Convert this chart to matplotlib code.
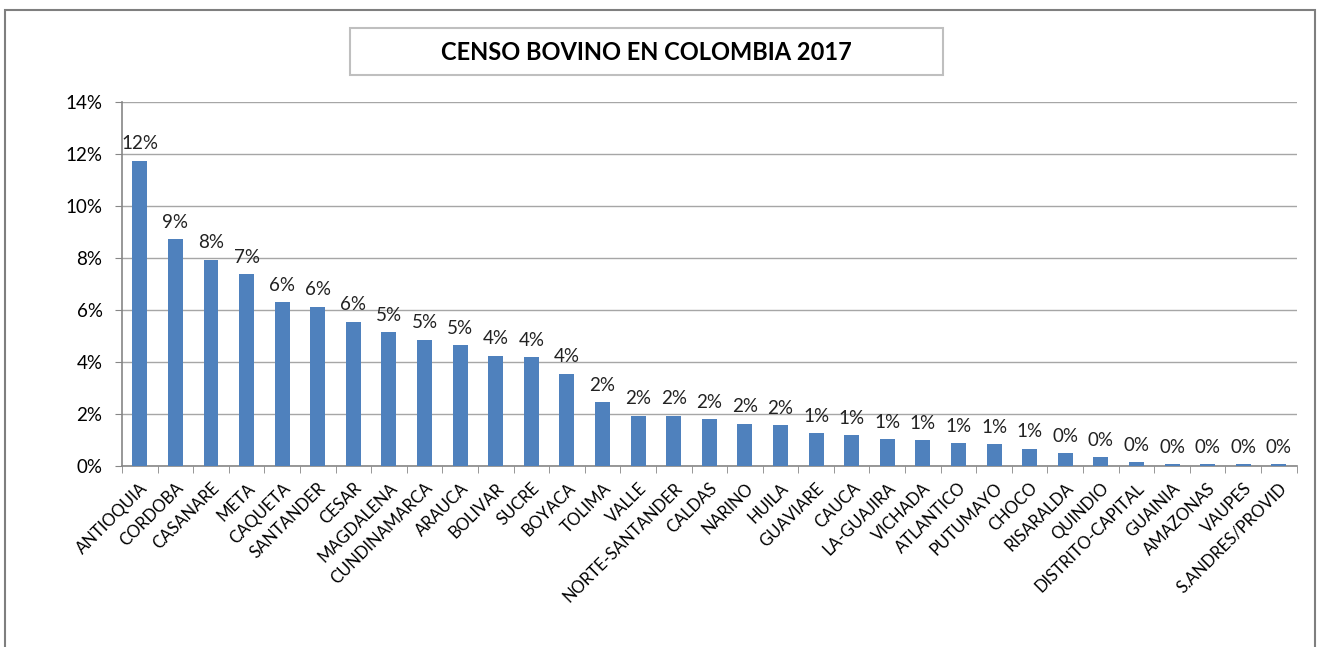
import matplotlib.pyplot as plt
from matplotlib.patches import Rectangle
from matplotlib.ticker import FuncFormatter, FixedLocator

plt.rcParams['font.family'] = ['Lato', 'DejaVu Sans']

departamentos = [
    'ANTIOQUIA', 'CORDOBA', 'CASANARE', 'META', 'CAQUETA', 'SANTANDER',
    'CESAR', 'MAGDALENA', 'CUNDINAMARCA', 'ARAUCA', 'BOLIVAR', 'SUCRE',
    'BOYACA', 'TOLIMA', 'VALLE', 'NORTE-SANTANDER', 'CALDAS', 'NARINO',
    'HUILA', 'GUAVIARE', 'CAUCA', 'LA-GUAJIRA', 'VICHADA', 'ATLANTICO',
    'PUTUMAYO', 'CHOCO', 'RISARALDA', 'QUINDIO', 'DISTRITO-CAPITAL',
    'GUAINIA', 'AMAZONAS', 'VAUPES', 'S.ANDRES/PROVID',
]
# participacion (%) en el inventario bovino nacional
porcentaje = [
    11.75, 8.73, 7.93, 7.38, 6.31, 6.13,
    5.55, 5.15, 4.86, 4.65, 4.24, 4.19,
    3.55, 2.46, 1.93, 1.93, 1.81, 1.63,
    1.58, 1.27, 1.19, 1.04, 1.00, 0.89,
    0.85, 0.66, 0.48, 0.35, 0.15,
    0.08, 0.08, 0.07, 0.07,
]
yticks = [0, 2, 4, 6, 8, 10, 12, 14]

fig = plt.figure(figsize=(13.22, 6.47), dpi=100)
ax = fig.add_axes([0.0923, 0.2798, 0.8885, 0.5625])

x = range(len(departamentos))
bars = ax.bar(x, porcentaje, width=0.42, color='#4F81BD', zorder=3)

for b, v in zip(bars, porcentaje):
    ax.annotate(f'{round(v):.0f}%', (b.get_x() + b.get_width() / 2, v),
                xytext=(0, 6), textcoords='offset points',
                ha='center', va='bottom', fontsize=13.5, color='#222222')

ax.set_xlim(-0.5, len(departamentos) - 0.5)
ax.set_ylim(0, 14)
ax.yaxis.set_major_locator(FixedLocator(yticks))
ax.yaxis.set_major_formatter(FuncFormatter(lambda v, p: f'{v:.0f}%'))
ax.grid(axis='y', color='#A6A6A6', linewidth=1.0, zorder=0)

ax.set_xticks(list(x))
ax.set_xticklabels(departamentos, rotation=45, ha='right',
                   rotation_mode='anchor', fontsize=12)
ax.set_xticks([i - 0.5 for i in range(len(departamentos) + 1)], minor=True)
ax.tick_params(axis='x', which='major', length=0, pad=10)
ax.tick_params(axis='x', which='minor', length=5, color='#868686')
ax.tick_params(axis='y', length=5, color='#868686', labelsize=13.5, pad=9)

for s in ['top', 'right']:
    ax.spines[s].set_visible(False)
for s in ['left', 'bottom']:
    ax.spines[s].set_color('#868686')
    ax.spines[s].set_linewidth(1.2)

# marco del grafico
fig.patches.append(Rectangle((5 / 1322, -0.1), 1310 / 1322, 1 - 10 / 647 + 0.1,
                             transform=fig.transFigure, fill=False,
                             edgecolor='#7F7F7F', linewidth=1.5))
# recuadro del titulo
fig.patches.append(Rectangle((350 / 1322, 1 - 75 / 647), 593 / 1322, 47 / 647,
                             transform=fig.transFigure, fill=False,
                             edgecolor='#BFBFBF', linewidth=1.5))
fig.text(646.5 / 1322, 1 - 53 / 647, 'CENSO BOVINO EN COLOMBIA 2017',
         ha='center', va='center', fontsize=17, fontweight='bold')

fig.savefig('out.png', dpi=100)
